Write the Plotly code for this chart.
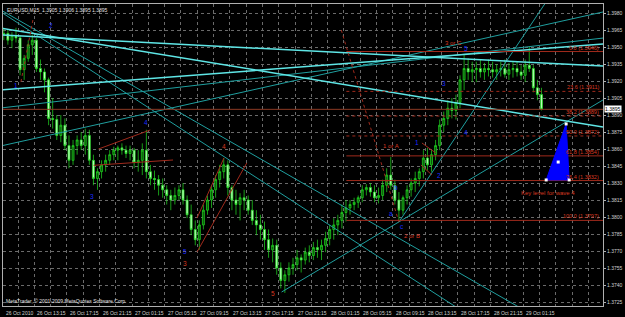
import pandas as pd
import plotly.graph_objects as go

# ---------------- data ----------------
symbol = "EURUSD,M15"
header_ohlc = ["1.3905", "1.3906", "1.3895", "1.3895"]
bid_price = 1.3895

candle_open = [1.3961, 1.3962, 1.3956, 1.3960, 1.3958, 1.3930, 1.3940, 1.3952, 1.3956, 1.3931,
               1.3928, 1.3921, 1.3887, 1.3886, 1.3872, 1.3881, 1.3863, 1.3850, 1.3863, 1.3868,
               1.3863, 1.3872, 1.3850, 1.3834, 1.3840, 1.3846, 1.3850, 1.3855, 1.3859, 1.3861,
               1.3859, 1.3856, 1.3859, 1.3848, 1.3850, 1.3859, 1.3840, 1.3834, 1.3833, 1.3828,
               1.3824, 1.3819, 1.3815, 1.3819, 1.3824, 1.3815, 1.3802, 1.3789, 1.3780, 1.3793,
               1.3806, 1.3815, 1.3824, 1.3833, 1.3840, 1.3846, 1.3826, 1.3815, 1.3811, 1.3817,
               1.3815, 1.3806, 1.3797, 1.3793, 1.3789, 1.3780, 1.3771, 1.3775, 1.3755, 1.3744,
               1.3749, 1.3755, 1.3758, 1.3764, 1.3762, 1.3769, 1.3766, 1.3773, 1.3771, 1.3775,
               1.3781, 1.3789, 1.3793, 1.3797, 1.3804, 1.3808, 1.3811, 1.3813, 1.3817, 1.3824,
               1.3826, 1.3822, 1.3817, 1.3819, 1.3828, 1.3837, 1.3828, 1.3815, 1.3806, 1.3817,
               1.3824, 1.3830, 1.3834, 1.3840, 1.3852, 1.3846, 1.3855, 1.3863, 1.3881, 1.3887,
               1.3896, 1.3894, 1.3901, 1.3921, 1.3931, 1.3928, 1.3930, 1.3931, 1.3928, 1.3931,
               1.3930, 1.3928, 1.3930, 1.3931, 1.3926, 1.3930, 1.3931, 1.3928, 1.3925, 1.3934,
               1.3931, 1.3914, 1.3908]
candle_high = [1.3967, 1.3965, 1.3963, 1.3967, 1.3960, 1.3943, 1.3956, 1.3961, 1.3958, 1.3939,
               1.3931, 1.3923, 1.3905, 1.3890, 1.3890, 1.3887, 1.3872, 1.3868, 1.3872, 1.3875,
               1.3878, 1.3877, 1.3855, 1.3843, 1.3850, 1.3855, 1.3859, 1.3862, 1.3863, 1.3865,
               1.3863, 1.3863, 1.3861, 1.3859, 1.3865, 1.3877, 1.3846, 1.3841, 1.3837, 1.3834,
               1.3828, 1.3824, 1.3826, 1.3828, 1.3830, 1.3819, 1.3811, 1.3797, 1.3797, 1.3811,
               1.3819, 1.3828, 1.3837, 1.3846, 1.3852, 1.3850, 1.3828, 1.3824, 1.3821, 1.3824,
               1.3819, 1.3815, 1.3806, 1.3802, 1.3796, 1.3789, 1.3781, 1.3780, 1.3760, 1.3753,
               1.3760, 1.3764, 1.3771, 1.3767, 1.3773, 1.3775, 1.3778, 1.3780, 1.3780, 1.3787,
               1.3793, 1.3799, 1.3802, 1.3811, 1.3815, 1.3815, 1.3817, 1.3819, 1.3828, 1.3829,
               1.3830, 1.3828, 1.3826, 1.3833, 1.3843, 1.3853, 1.3833, 1.3822, 1.3819, 1.3828,
               1.3834, 1.3840, 1.3843, 1.3859, 1.3861, 1.3859, 1.3868, 1.3886, 1.3893, 1.3903,
               1.3905, 1.3908, 1.3925, 1.3943, 1.3940, 1.3937, 1.3937, 1.3939, 1.3936, 1.3939,
               1.3937, 1.3935, 1.3937, 1.3939, 1.3936, 1.3937, 1.3937, 1.3934, 1.3939, 1.3950,
               1.3934, 1.3921, 1.3914]
candle_low = [1.3956, 1.3952, 1.3949, 1.3954, 1.3925, 1.3921, 1.3937, 1.3943, 1.3928, 1.3921,
              1.3910, 1.3881, 1.3878, 1.3868, 1.3866, 1.3859, 1.3843, 1.3846, 1.3855, 1.3859,
              1.3855, 1.3846, 1.3828, 1.3824, 1.3834, 1.3840, 1.3846, 1.3850, 1.3850, 1.3855,
              1.3852, 1.3850, 1.3843, 1.3840, 1.3837, 1.3834, 1.3828, 1.3824, 1.3819, 1.3817,
              1.3811, 1.3806, 1.3811, 1.3815, 1.3811, 1.3799, 1.3784, 1.3775, 1.3771, 1.3789,
              1.3802, 1.3808, 1.3817, 1.3826, 1.3834, 1.3819, 1.3806, 1.3802, 1.3797, 1.3806,
              1.3802, 1.3793, 1.3784, 1.3780, 1.3771, 1.3764, 1.3760, 1.3749, 1.3737, 1.3733,
              1.3743, 1.3749, 1.3753, 1.3751, 1.3758, 1.3760, 1.3762, 1.3764, 1.3762, 1.3769,
              1.3775, 1.3780, 1.3784, 1.3790, 1.3796, 1.3802, 1.3806, 1.3808, 1.3813, 1.3819,
              1.3818, 1.3813, 1.3812, 1.3815, 1.3822, 1.3824, 1.3811, 1.3797, 1.3802, 1.3811,
              1.3818, 1.3822, 1.3827, 1.3834, 1.3841, 1.3840, 1.3850, 1.3859, 1.3875, 1.3881,
              1.3887, 1.3886, 1.3896, 1.3912, 1.3921, 1.3919, 1.3919, 1.3923, 1.3921, 1.3924,
              1.3923, 1.3921, 1.3924, 1.3923, 1.3921, 1.3923, 1.3924, 1.3921, 1.3919, 1.3928,
              1.3910, 1.3903, 1.3894]
candle_close = [1.3962, 1.3956, 1.3960, 1.3958, 1.3930, 1.3940, 1.3952, 1.3956, 1.3931, 1.3928,
                1.3921, 1.3887, 1.3886, 1.3872, 1.3881, 1.3863, 1.3850, 1.3863, 1.3868, 1.3863,
                1.3872, 1.3850, 1.3834, 1.3840, 1.3846, 1.3850, 1.3855, 1.3859, 1.3861, 1.3859,
                1.3856, 1.3859, 1.3848, 1.3850, 1.3859, 1.3840, 1.3834, 1.3833, 1.3828, 1.3824,
                1.3819, 1.3815, 1.3819, 1.3824, 1.3815, 1.3802, 1.3789, 1.3780, 1.3793, 1.3806,
                1.3815, 1.3824, 1.3833, 1.3840, 1.3846, 1.3826, 1.3815, 1.3811, 1.3817, 1.3815,
                1.3806, 1.3797, 1.3793, 1.3789, 1.3780, 1.3771, 1.3775, 1.3755, 1.3744, 1.3749,
                1.3755, 1.3758, 1.3764, 1.3762, 1.3769, 1.3766, 1.3773, 1.3771, 1.3775, 1.3781,
                1.3789, 1.3793, 1.3797, 1.3804, 1.3808, 1.3811, 1.3813, 1.3817, 1.3824, 1.3826,
                1.3822, 1.3817, 1.3819, 1.3828, 1.3837, 1.3828, 1.3815, 1.3806, 1.3817, 1.3824,
                1.3830, 1.3834, 1.3840, 1.3852, 1.3846, 1.3855, 1.3863, 1.3881, 1.3887, 1.3896,
                1.3894, 1.3901, 1.3921, 1.3931, 1.3928, 1.3930, 1.3931, 1.3928, 1.3931, 1.3930,
                1.3928, 1.3930, 1.3931, 1.3926, 1.3930, 1.3931, 1.3928, 1.3925, 1.3934, 1.3931,
                1.3914, 1.3908, 1.3895]

first_bar = pd.Timestamp("2010-10-26 09:15")   # first M15 bar on screen
candle_minutes = 30

price_ticks = [1.3725, 1.3740, 1.3755, 1.3770, 1.3785, 1.3800, 1.3815, 1.3830, 1.3845,
               1.3860, 1.3875, 1.3890, 1.3905, 1.3920, 1.3935, 1.3950, 1.3965, 1.3980]
time_label_bars = [0.7, 16, 32, 48, 64, 80, 96, 112, 128, 144, 160, 176, 192, 208, 224, 240, 256]
time_labels = ["26 Oct 2010", "26 Oct 13:15", "26 Oct 17:15", "26 Oct 21:15",
               "27 Oct 01:15", "27 Oct 05:15", "27 Oct 09:15", "27 Oct 13:15",
               "27 Oct 17:15", "27 Oct 21:15", "28 Oct 01:15", "28 Oct 05:15",
               "28 Oct 09:15", "28 Oct 13:15", "28 Oct 17:15", "28 Oct 21:15", "29 Oct 01:15"]

# trend lines: anchor bars (M15 bars after first_bar) and prices
bright_bars = [[-0.4, 295.2], [-0.4, 295.2], [-0.4, 295.2]]
bright_prices = [[1.39667, 1.38794], [1.39606, 1.39332], [1.39121, 1.39527]]
teal_bars = [[-0.4, 295.2], [-0.4, 295.2], [-0.4, 222.9], [-0.4, 253.7],
             [137.4, 295.2], [195.0, 266.9]]
teal_prices = [[1.38962, 1.39579], [1.38627, 1.39809], [1.39809, 1.37207],
               [1.39826, 1.37207], [1.37338, 1.39033], [1.37956, 1.39888]]
red_bars = [[47.5, 72.9], [45.1, 84.1], [95.9, 109.1], [95.9, 120.3],
            [206.3, 213.1], [205.8, 211.2]]
red_prices = [[1.38600, 1.38768], [1.38456, 1.38503], [1.37992, 1.38521],
              [1.37692, 1.38477], [1.38653, 1.38565], [1.38459, 1.38371]]
red_dot_bars = [[15.3, 9.4], [166.7, 195.0]]
red_dot_prices = [[1.39738, 1.39191], [1.39650, 1.37956]]

fib_start_bar = 169.2
fib_high = 1.3946
fib_low = 1.3797
fib_pcts = [0.0, 23.6, 38.2, 50.0, 61.8, 76.4, 100.0]
fib_dotted = [False, True, True, True, False, False, False]

blue_labels = ["2", "1", "3", "4", "5", "a", "b", "c", "1", "2", "3", "4", "5"]
blue_bars = [24.1, 7.0, 44.1, 71.0, 90.0, 191.1, 193.6, 196.5, 203.8, 214.6, 217.0, 227.8, 227.8]
blue_prices = [1.39694, 1.39156, 1.38177, 1.38838, 1.37692, 1.38027, 1.38256, 1.37912,
               1.38653, 1.38362, 1.39182, 1.38750, 1.39491]
red_labels = ["3", "4", "5", "1 or A", "2 or B", "3 or C", "Key level for wave 4"]
red_label_bars = [90.0, 109.1, 133.0, 191.1, 201.4, 221.9, 268.3]
red_label_prices = [1.37594, 1.38626, 1.37329, 1.38626, 1.37833, 1.39535, 1.38212]

triangle_bars = [267.3, 277.1, 278.6]
triangle_prices = [1.38327, 1.38821, 1.38327]
triangle_mid_bar = 273.2
triangle_mid_price = 1.38485

x_range_bars = [0.61, 295.2]
y_range = [1.372147, 1.398794]

# ---------------- build figure ----------------
def bt(b):
    return first_bar + pd.Timedelta(minutes=15 * b)

candle_times = [first_bar + pd.Timedelta(minutes=candle_minutes * i + candle_minutes / 2)
                for i in range(len(candle_open))]

FONT = "Liberation Sans"
BRIGHT = "#5fe6e6"
TEAL = "#1f9f9f"
RED = "#a02a1c"
RED_TXT = "#d83a22"
BLUE_TXT = "#1a2cff"
GRID = "#6a6a6a"

fig = go.Figure()

for bars, prices in zip(teal_bars, teal_prices):
    fig.add_trace(go.Scatter(x=[bt(b) for b in bars], y=prices, mode="lines",
                             line=dict(color=TEAL, width=1), hoverinfo="skip"))
for bars, prices in zip(bright_bars, bright_prices):
    fig.add_trace(go.Scatter(x=[bt(b) for b in bars], y=prices, mode="lines",
                             line=dict(color=BRIGHT, width=1.5), hoverinfo="skip"))

# fibonacci levels
for pct, dotted in zip(fib_pcts, fib_dotted):
    lvl = fib_high - pct / 100.0 * (fib_high - fib_low)
    fig.add_trace(go.Scatter(x=[bt(fib_start_bar), bt(x_range_bars[1] + 1)], y=[lvl, lvl],
                             mode="lines", hoverinfo="skip",
                             line=dict(color=RED, width=1, dash="dot" if dotted else "solid")))
    fig.add_annotation(x=bt(x_range_bars[1] - 1), y=lvl, text=f"{pct:.1f} ({lvl:.4f})",
                       showarrow=False, xanchor="right", yanchor="bottom", yshift=-1,
                       font=dict(family=FONT, size=5.5, color=RED_TXT))

# bid line
fig.add_trace(go.Scatter(x=[bt(x_range_bars[0] - 2), bt(x_range_bars[1] + 2)],
                         y=[bid_price, bid_price], mode="lines", hoverinfo="skip",
                         line=dict(color="#8c3a24", width=1)))

for bars, prices in zip(red_bars, red_prices):
    fig.add_trace(go.Scatter(x=[bt(b) for b in bars], y=prices, mode="lines",
                             line=dict(color=RED, width=1), hoverinfo="skip"))
for bars, prices in zip(red_dot_bars, red_dot_prices):
    fig.add_trace(go.Scatter(x=[bt(b) for b in bars], y=prices, mode="lines",
                             line=dict(color=RED, width=1, dash="dot"), hoverinfo="skip"))

# candles
fig.add_trace(go.Candlestick(
    x=candle_times, open=candle_open, high=candle_high, low=candle_low, close=candle_close,
    increasing=dict(line=dict(color="#22e022", width=0.7), fillcolor="#0a5a0a"),
    decreasing=dict(line=dict(color="#22e022", width=0.7), fillcolor="#b8ffb8"),
    whiskerwidth=0, hoverinfo="skip"))

# blue triangle
fig.add_trace(go.Scatter(x=[bt(b) for b in triangle_bars + triangle_bars[:1]],
                         y=triangle_prices + triangle_prices[:1], mode="lines",
                         fill="toself", fillcolor="#0000ff",
                         line=dict(color="#0000ff", width=1), hoverinfo="skip"))
fig.add_trace(go.Scatter(x=[bt(b) for b in triangle_bars + [triangle_mid_bar]],
                         y=triangle_prices + [triangle_mid_price], mode="markers",
                         marker=dict(symbol="square", size=3, color="white"), hoverinfo="skip"))

for t, b, p in zip(blue_labels, blue_bars, blue_prices):
    fig.add_annotation(x=bt(b), y=p, text=t, showarrow=False,
                       font=dict(family=FONT, size=6.5, color=BLUE_TXT))
for t, b, p in zip(red_labels, red_label_bars, red_label_prices):
    fig.add_annotation(x=bt(b), y=p, text=t, showarrow=False,
                       font=dict(family=FONT, size=6.5 if len(t) == 1 else 6, color=RED_TXT))

# time labels below axis (left aligned like MT4)
for b, t in zip(time_label_bars, time_labels):
    fig.add_annotation(x=bt(b), y=0, yref="paper", text=t, showarrow=False,
                       xanchor="left", yanchor="top", xshift=1, yshift=-2,
                       font=dict(family=FONT, size=5, color="#d0d0d0"))

# header and copyright
fig.add_annotation(x=0, y=1, xref="paper", yref="paper", xanchor="left", yanchor="top",
                   xshift=2, yshift=-1, showarrow=False,
                   text=symbol + "  " + " ".join(header_ohlc),
                   font=dict(family=FONT, size=5, color="#e0e0e0"))
fig.add_annotation(x=0, y=0, xref="paper", yref="paper", xanchor="left", yanchor="bottom",
                   xshift=1, yshift=0, showarrow=False,
                   text="MetaTrader, © 2001-2009 MetaQuotes Software Corp.",
                   font=dict(family=FONT, size=5, color="#e0e0e0"))
# bid price box on price scale
fig.add_annotation(x=1, xref="paper", y=bid_price, xanchor="left", showarrow=False, xshift=1,
                   text=f"{bid_price:.4f}", bgcolor="#ffffff", borderpad=0,
                   font=dict(family=FONT, size=5, color="#000000"))

fig.update_layout(
    width=625, height=317, margin=dict(l=2, r=20, t=4, b=11),
    paper_bgcolor="#000000", plot_bgcolor="#000000", showlegend=False,
    xaxis=dict(type="date", range=[bt(x_range_bars[0]), bt(x_range_bars[1])],
               rangeslider=dict(visible=False), showticklabels=False,
               tick0=first_bar, dtick=2 * 3600 * 1000, ticks="",
               showgrid=True, gridcolor=GRID, griddash="dot", gridwidth=1,
               showline=True, mirror=True, linecolor="#b0b0b0", linewidth=1, zeroline=False),
    yaxis=dict(range=y_range, side="right", tickvals=price_ticks,
               ticktext=[f"{v:.4f}" for v in price_ticks],
               tickfont=dict(family=FONT, size=5, color="#d0d0d0"),
               ticks="outside", ticklen=2, tickcolor="#b0b0b0",
               showgrid=True, gridcolor=GRID, griddash="dot", gridwidth=1,
               showline=True, mirror=True, linecolor="#b0b0b0", linewidth=1, zeroline=False),
)

fig.write_html("out.html")
